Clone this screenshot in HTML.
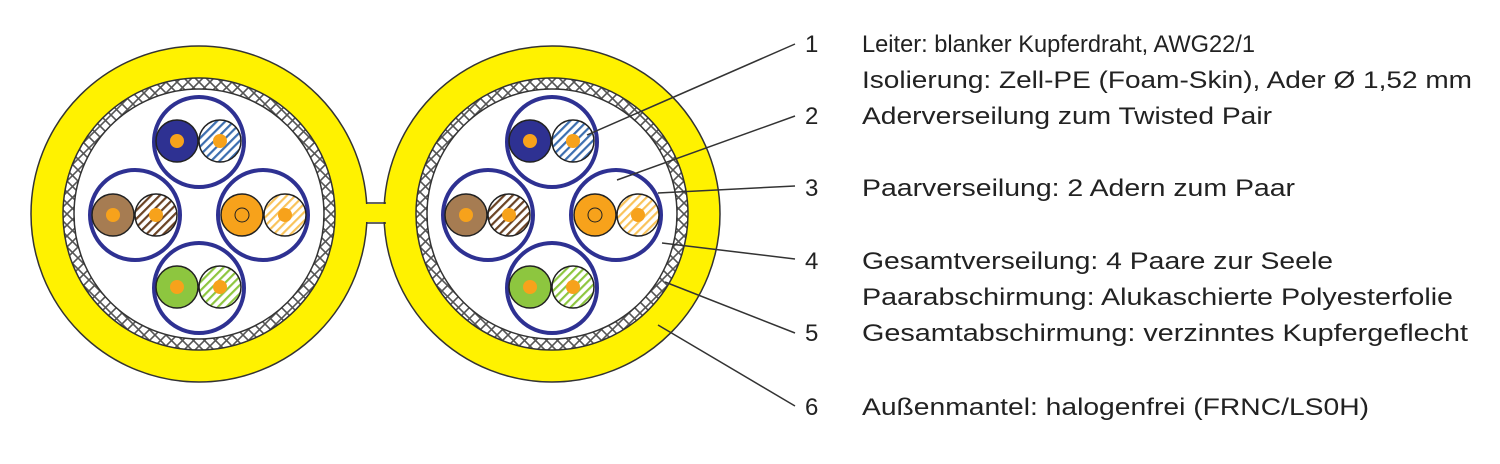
<!DOCTYPE html>
<html><head><meta charset="utf-8"><style>
html,body{margin:0;padding:0;background:#fff;}
svg{display:block;}
text{font-family:"Liberation Sans",sans-serif;font-size:24px;fill:#222;}
</style></head><body>
<svg width="1500" height="464" viewBox="0 0 1500 464" xmlns="http://www.w3.org/2000/svg">
<defs>
<pattern id="sb" patternUnits="userSpaceOnUse" width="6" height="6" patternTransform="rotate(45)"><rect width="6" height="6" fill="#fff"/><rect width="2.2" height="6" fill="#3d6fb0"/></pattern>
<pattern id="sbr" patternUnits="userSpaceOnUse" width="6" height="6" patternTransform="rotate(45)"><rect width="6" height="6" fill="#fff"/><rect width="2.2" height="6" fill="#6b4426"/></pattern>
<pattern id="so" patternUnits="userSpaceOnUse" width="6" height="6" patternTransform="rotate(45)"><rect width="6" height="6" fill="#fff"/><rect width="2.2" height="6" fill="#f9c35a"/></pattern>
<pattern id="sg" patternUnits="userSpaceOnUse" width="6" height="6" patternTransform="rotate(45)"><rect width="6" height="6" fill="#fff"/><rect width="2.2" height="6" fill="#8dc63f"/></pattern>
<pattern id="braid" patternUnits="userSpaceOnUse" width="11" height="11"><rect width="11" height="11" fill="#fff"/><path d="M0 0L11 11M11 0L0 11" stroke="#555" stroke-width="1.6"/></pattern>
<g id="cable">
  <circle cx="0" cy="0" r="168" fill="#fff200" stroke="#333" stroke-width="1.5"/>
  <circle cx="0" cy="0" r="136" fill="url(#braid)" stroke="#333" stroke-width="1.5"/>
  <circle cx="0" cy="0" r="125" fill="#fff" stroke="#333" stroke-width="1.5"/>
  <circle cx="0" cy="-72" r="45" fill="#fff" stroke="#2e3192" stroke-width="4"/>
  <circle cx="-22" cy="-73" r="21" fill="#2e3192" stroke="#222" stroke-width="1.5"/>
  <circle cx="-22" cy="-73" r="7" fill="#f7a21b"/>
  <circle cx="21" cy="-73" r="21" fill="url(#sb)" stroke="#222" stroke-width="1.5"/>
  <circle cx="21" cy="-73" r="7" fill="#f7a21b"/>
  <circle cx="-64" cy="1" r="45" fill="#fff" stroke="#2e3192" stroke-width="4"/>
  <circle cx="-86" cy="1" r="21" fill="#a67c52" stroke="#222" stroke-width="1.5"/>
  <circle cx="-86" cy="1" r="7" fill="#f7a21b"/>
  <circle cx="-43" cy="1" r="21" fill="url(#sbr)" stroke="#222" stroke-width="1.5"/>
  <circle cx="-43" cy="1" r="7" fill="#f7a21b"/>
  <circle cx="64" cy="1" r="45" fill="#fff" stroke="#2e3192" stroke-width="4"/>
  <circle cx="43" cy="1" r="21" fill="#f7a21b" stroke="#222" stroke-width="1.5"/>
  <circle cx="43" cy="1" r="7" fill="none" stroke="#222" stroke-width="1"/>
  <circle cx="86" cy="1" r="21" fill="url(#so)" stroke="#222" stroke-width="1.5"/>
  <circle cx="86" cy="1" r="7" fill="#f7a21b"/>
  <circle cx="0" cy="74" r="45" fill="#fff" stroke="#2e3192" stroke-width="4"/>
  <circle cx="-22" cy="73" r="21" fill="#8dc63f" stroke="#222" stroke-width="1.5"/>
  <circle cx="-22" cy="73" r="7" fill="#f7a21b"/>
  <circle cx="21" cy="73" r="21" fill="url(#sg)" stroke="#222" stroke-width="1.5"/>
  <circle cx="21" cy="73" r="7" fill="#f7a21b"/>
</g>
</defs>
<use href="#cable" x="199" y="214"/>
<use href="#cable" x="552" y="214"/>
<rect x="362" y="204" width="26" height="18" fill="#fff200"/>
<line x1="366" y1="203" x2="386" y2="203" stroke="#333" stroke-width="1.5"/>
<line x1="366" y1="223" x2="386" y2="223" stroke="#333" stroke-width="1.5"/>
<g stroke="#333" stroke-width="1.5">
<line x1="795" y1="44" x2="587" y2="135"/>
<line x1="795" y1="116" x2="617" y2="180"/>
<line x1="795" y1="186" x2="658" y2="193"/>
<line x1="795" y1="259" x2="662" y2="243"/>
<line x1="795" y1="333" x2="665" y2="282"/>
<line x1="795" y1="406" x2="658" y2="325"/>
</g>
<text x="805" y="52">1</text>
<text x="805" y="124">2</text>
<text x="805" y="196">3</text>
<text x="805" y="269">4</text>
<text x="805" y="341">5</text>
<text x="805" y="415">6</text>
<text x="862" y="52" textLength="393" lengthAdjust="spacingAndGlyphs">Leiter: blanker Kupferdraht, AWG22/1</text>
<text x="862" y="88" textLength="610" lengthAdjust="spacingAndGlyphs">Isolierung: Zell-PE (Foam-Skin), Ader Ø 1,52 mm</text>
<text x="862" y="124" textLength="410" lengthAdjust="spacingAndGlyphs">Aderverseilung zum Twisted Pair</text>
<text x="862" y="196" textLength="433" lengthAdjust="spacingAndGlyphs">Paarverseilung: 2 Adern zum Paar</text>
<text x="862" y="269" textLength="471" lengthAdjust="spacingAndGlyphs">Gesamtverseilung: 4 Paare zur Seele</text>
<text x="862" y="305" textLength="591" lengthAdjust="spacingAndGlyphs">Paarabschirmung: Alukaschierte Polyesterfolie</text>
<text x="862" y="341" textLength="606" lengthAdjust="spacingAndGlyphs">Gesamtabschirmung: verzinntes Kupfergeflecht</text>
<text x="862" y="415" textLength="507" lengthAdjust="spacingAndGlyphs">Außenmantel: halogenfrei (FRNC/LS0H)</text>
</svg>
</body></html>
